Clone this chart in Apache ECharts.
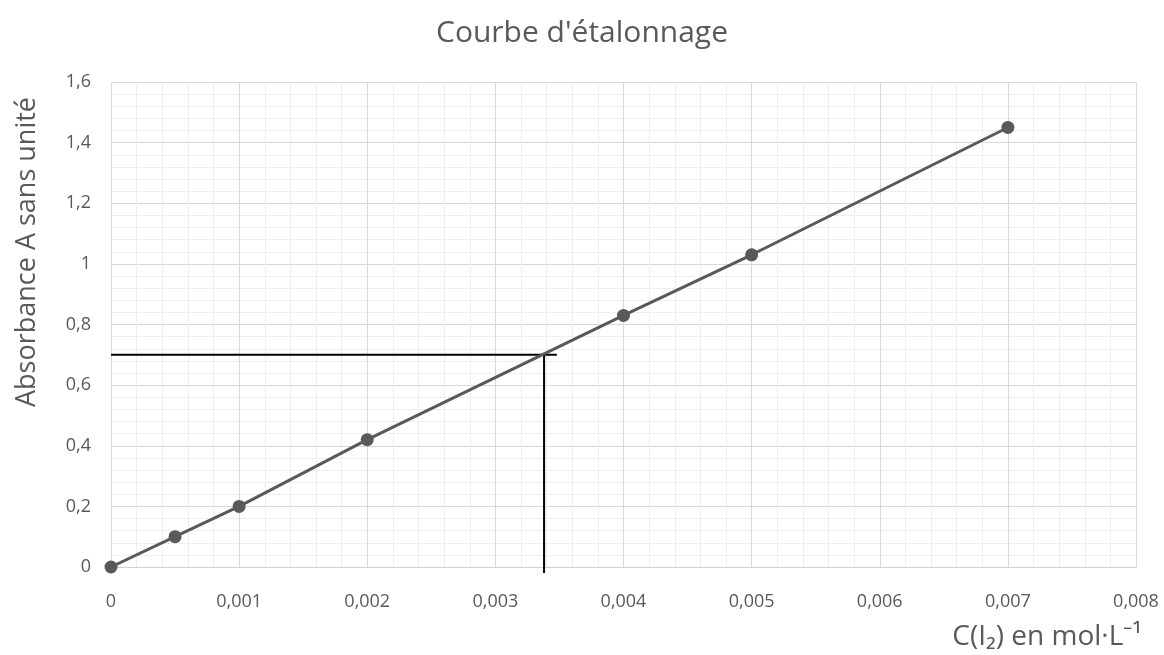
<!DOCTYPE html>
<html>
<head>
<meta charset="utf-8">
<script src="https://cdn.jsdelivr.net/npm/echarts@6/dist/echarts.min.js"></script>
<style>html,body{margin:0;padding:0;background:#fff}#c{width:1164px;height:655px}</style>
</head>
<body>
<div id="c"></div>
<script>
// Data
const concentrations = [0, 0.0005, 0.001, 0.002, 0.004, 0.005, 0.007];
const absorbances = [0, 0.10, 0.20, 0.42, 0.83, 1.03, 1.45];
const readAbsorbance = 0.70;
const readConcentration = 0.00338;
const crossHEndX = 0.00348;
const crossVEndY = -0.02;
const titleText = "Courbe d'étalonnage";
const yName = "Absorbance A sans unité";
const xName = "C(I\u2082) en mol·L\u207B\u00B9";

const grey = '#595959';
const chart = echarts.init(document.getElementById('c'));
const fmtX = v => v === 0 ? '0' : v.toFixed(3).replace('.', ',');
const fmtY = v => String(Math.round(v * 10) / 10).replace('.', ',');

chart.setOption({
  animation: false,
  backgroundColor: '#fff',
  title: {
    text: titleText, left: 'center', top: 13,
    textStyle: { fontFamily: 'Open Sans', fontSize: 30, fontWeight: 'normal', color: grey }
  },
  grid: { left: 111, right: 28, top: 82, bottom: 88 },
  xAxis: {
    type: 'value', min: 0, max: 0.008, interval: 0.001,
    axisLine: { show: true, onZero: false, lineStyle: { color: '#d0d0d0', width: 1 } },
    axisTick: { show: false },
    minorTick: { show: false, splitNumber: 5 },
    axisLabel: { formatter: fmtX, color: grey, fontFamily: 'Open Sans', fontSize: 18, margin: 26 },
    splitLine: { show: true, lineStyle: { color: '#d9d9d9', width: 1 } },
    minorSplitLine: { show: true, lineStyle: { color: '#eeeeee', width: 1 } }
  },
  yAxis: {
    type: 'value', min: 0, max: 1.6, interval: 0.2,
    axisLine: { show: false },
    axisTick: { show: false },
    minorTick: { show: false, splitNumber: 5 },
    axisLabel: { formatter: fmtY, color: grey, fontFamily: 'Open Sans', fontSize: 18, margin: 20 },
    splitLine: { show: true, lineStyle: { color: '#d9d9d9', width: 1 } },
    minorSplitLine: { show: true, lineStyle: { color: '#eeeeee', width: 1 } }
  },
  graphic: [
    {
      type: 'text', x: 27, y: 252, rotation: Math.PI / 2,
      style: { text: yName, fill: grey, font: '27px "Open Sans"', align: 'center', verticalAlign: 'middle' }
    },
    {
      type: 'text', x: 1142, y: 637,
      style: { text: xName, fill: grey, font: '28px "Open Sans"', align: 'right', verticalAlign: 'middle' }
    }
  ],
  series: [
    {
      type: 'line',
      data: concentrations.map((c, i) => [c, absorbances[i]]),
      symbol: 'circle', symbolSize: 13,
      lineStyle: { color: grey, width: 3 },
      itemStyle: { color: grey },
      z: 3
    },
    {
      type: 'line', clip: false, symbol: 'none', silent: true,
      data: [[0, readAbsorbance], [crossHEndX, readAbsorbance]],
      lineStyle: { color: '#000', width: 2 }, z: 2
    },
    {
      type: 'line', clip: false, symbol: 'none', silent: true,
      data: [[readConcentration, readAbsorbance], [readConcentration, crossVEndY]],
      lineStyle: { color: '#000', width: 2 }, z: 2
    }
  ]
});
</script>
</body>
</html>
